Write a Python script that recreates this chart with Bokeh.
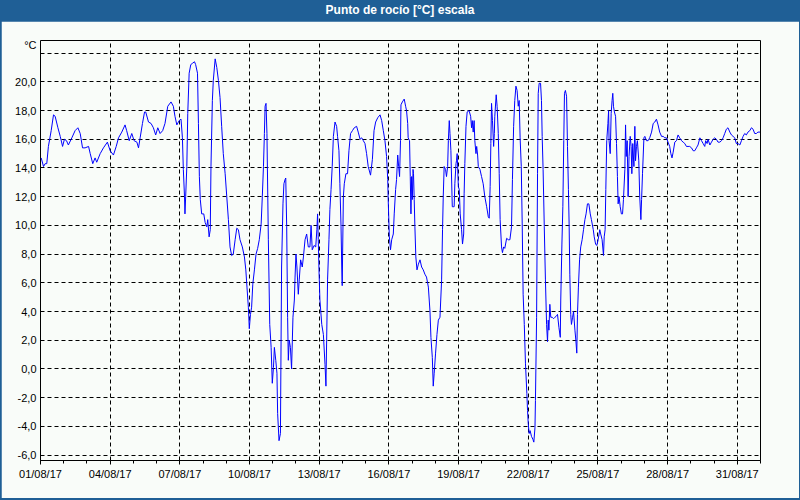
import pandas as pd
from bokeh.plotting import figure
from bokeh.layouts import column
from bokeh.models import FixedTicker, DatetimeTickFormatter, Range1d, Div
from bokeh.embed import file_html
from bokeh.resources import INLINE

TITLE = "Punto de rocío [°C] escala"
UNIT = "°C"
START = "2017-08-01"
END = "2017-09-01"

# days since 01/08/17 00:00 and dew point values (°C)
days_1 = [0.03,0.13,0.20,0.27,0.34,0.46,0.56,0.63,0.75,0.85,0.95,1.03,1.12,1.20,1.35,1.49,1.61,1.71,1.81,1.92,
          2.07,2.14,2.25,2.35,2.42,2.57,2.71,2.88,3.00,3.14,3.26,3.36,3.50,3.64,3.71,3.82,3.93,4.03,4.15,4.22,
          4.29,4.39,4.48,4.53,4.65,4.76,4.86,4.96,5.05,5.15,5.26]
vals_1 = [14.7,14.1,14.3,14.3,15.5,16.6,17.7,17.6,16.8,16.2,15.5,16.0,15.9,15.6,16.1,16.6,16.8,16.4,15.4,15.4,
          15.5,15.0,14.3,14.7,14.4,15.0,15.4,15.8,15.2,14.9,15.5,16.1,16.5,17.0,16.6,15.9,16.4,15.9,15.8,15.4,
          16.1,17.1,17.9,17.9,17.2,17.1,16.8,16.3,16.8,16.4,16.6]

days_2 = [5.36,5.48,5.62,5.72,5.79,5.87,5.97,6.05,6.11,6.15,6.20,6.22,6.25,6.30,6.34,6.40,6.47,6.55,6.63,6.68,
          6.76,6.80,6.84,6.88,6.94,7.03,7.09,7.16,7.20,7.26,7.31,7.34,7.40,7.44,7.52,7.59,7.66,7.73,7.80,7.87,
          7.95,8.02,8.09,8.16,8.23,8.30,8.38,8.45,8.52,8.59,8.69,8.78,8.84,8.89,8.95,8.99,9.04,9.09,9.14,9.21,
          9.28,9.35,9.42,9.50,9.55,9.60,9.64,9.67,9.71,9.75,9.81,9.87,9.93,9.98,10.03,10.07,10.13,10.18,10.21,10.27,
          10.33,10.38,10.44]
vals_2 = [17.1,18.3,18.6,18.3,17.6,17.0,17.3,17.4,16.1,13.9,12.0,10.8,12.0,14.1,17.8,20.6,21.2,21.3,21.4,21.2,
          20.6,17.1,13.4,11.8,10.8,10.8,10.2,9.9,10.4,9.2,9.7,14.1,18.7,20.1,21.6,21.0,20.1,18.9,16.9,15.0,
          13.6,12.0,10.4,8.5,7.9,8.0,9.0,9.8,9.7,9.0,8.5,7.8,6.9,5.7,4.3,2.8,3.8,4.3,5.9,6.9,
          8.0,8.4,9.0,10.1,12.0,14.1,16.4,18.3,18.5,16.4,9.0,3.1,1.5,-1.0,0.1,1.5,0.6,-0.3,-3.1,-5.0,
          -4.5,7.1,11.5]

days_3 = [10.48,10.53,10.56,10.60,10.64,10.67,10.71,10.76,10.81,10.87,10.93,10.96,11.00,11.04,11.10,11.14,11.20,11.27,11.32,11.39,
          11.46,11.53,11.60,11.65,11.70,11.78,11.85,11.90,11.93,11.96,11.99,12.03,12.11,12.18,12.25,12.29,12.32,12.36,12.42,12.46,
          12.51,12.56,12.61,12.68,12.75,12.79,12.85,12.89,12.94,12.97,12.99,13.04,13.08,13.15,13.22,13.28,13.35,13.43,13.51,13.61,
          13.68,13.76,13.83,13.90,13.97,14.04,14.11,14.21,14.29,14.36,14.43,14.52,14.62,14.69,14.76,14.83,14.90,14.95,14.97,15.02,
          15.07,15.12,15.19,15.23,15.29,15.33,15.38,15.42,15.46,15.50]
vals_3 = [12.9,13.2,13.3,9.9,3.6,0.6,2.0,1.5,0.0,3.6,4.8,6.4,8.0,7.1,5.2,6.2,7.6,7.1,7.8,9.0,
          9.4,8.5,8.5,10.0,8.3,8.6,8.5,9.7,10.8,9.0,6.9,4.8,3.1,2.4,0.3,-1.2,2.0,6.2,9.0,11.1,
          12.5,14.1,16.2,17.2,16.9,16.2,15.2,12.9,9.9,7.1,5.8,12.0,12.9,13.6,13.6,15.2,16.4,16.6,16.8,16.9,
          16.5,16.0,16.1,15.9,15.7,15.0,14.1,13.5,14.6,16.6,17.2,17.5,17.7,17.3,16.6,15.9,14.8,13.2,11.8,9.2,
          8.3,9.0,9.4,10.8,12.5,13.2,14.9,14.1,13.4,15.9]

days_4 = [15.52,15.58,15.66,15.72,15.76,15.81,15.83,15.89,15.92,15.95,15.98,16.01,16.04,16.06,16.09,16.12,16.16,16.21,16.27,16.34,
          16.41,16.48,16.55,16.62,16.70,16.77,16.81,16.87,16.91,16.95,17.01,17.07,17.13,17.20,17.27,17.31,17.34,17.38,17.44,17.48,
          17.53,17.56,17.60,17.63,17.67,17.73,17.77,17.81,17.84,17.89,17.91,17.94,17.99,18.03,18.07,18.13,18.17,18.22,18.24,18.27,
          18.32,18.37,18.45,18.52,18.56,18.59,18.63,18.67,18.70,18.75,18.78,18.82,18.85,18.92,18.99,19.06,19.13,19.21,19.28,19.32,
          19.36,19.39,19.42,19.46,19.51,19.54,19.56,19.62,19.66,19.71,19.75,19.79,19.85,19.89,19.94,19.99,20.07,20.14,20.21,20.28,
          20.32,20.37,20.42,20.47,20.52,20.57]
vals_4 = [18.4,18.6,18.8,18.3,18.0,17.1,16.1,15.9,13.4,10.8,13.4,11.8,13.9,13.6,11.8,9.9,7.8,6.9,7.3,7.6,
          7.1,6.9,6.6,6.4,5.7,4.0,2.2,0.8,-1.2,-0.3,1.1,2.4,3.4,3.6,6.2,9.7,12.0,14.1,13.9,13.4,
          14.1,15.9,17.3,16.4,15.2,11.3,11.3,11.3,12.9,14.3,14.5,15.0,12.7,12.5,10.8,9.7,8.7,9.4,12.2,14.3,
          16.9,17.9,18.0,17.6,16.8,17.3,16.5,17.3,15.9,15.0,15.5,14.9,14.1,13.9,13.4,12.9,12.0,11.3,10.6,10.5,
          12.7,15.7,18.5,17.3,15.5,16.4,17.6,19.1,18.3,16.4,13.6,10.4,8.5,8.1,8.5,8.4,9.1,9.0,9.0,9.9,
          13.2,16.9,18.7,19.7,19.4,18.3]

days_5 = [20.61,20.65,20.70,20.74,20.78,20.83,20.88,20.94,20.97,21.00,21.04,21.08,21.14,21.20,21.24,21.29,21.31,21.36,21.40,21.43,
          21.47,21.53,21.57,21.60,21.64,21.69,21.74,21.79,21.83,21.86,21.89,21.93,21.97,22.03,22.09,22.15,22.22,22.26,22.32,22.38,
          22.40,22.45,22.49,22.53,22.56,22.60,22.65,22.69,22.73,22.76,22.79,22.83,22.86,22.91,22.95,23.01,23.05,23.09,23.12,23.16,
          23.21,23.26,23.32,23.38,23.44,23.49,23.55,23.61,23.67,23.72,23.80,23.84,23.90,23.95,24.01,24.08,24.12,24.18,24.24,24.27,
          24.31,24.34,24.38,24.43,24.46,24.48,24.53,24.57,24.61,24.64,24.67,24.71,24.76,24.80,24.84,24.87,24.91,24.96,25.01,25.06,
          25.10,25.16,25.19,25.22,25.26,25.30,25.34,25.39,25.43,25.46,25.50,25.55,25.59,25.62,25.66,25.70,25.76,25.80,25.85,25.88,
          25.92]
vals_5 = [18.7,16.1,14.1,10.1,5.2,3.1,0.4,-1.7,-2.9,-3.8,-4.5,-4.3,-4.7,-4.9,-5.1,-4.1,-2.2,3.6,13.6,19.2,
          19.9,19.9,18.7,16.2,13.9,9.9,6.2,3.1,1.9,3.4,2.7,4.5,3.6,3.6,3.5,3.6,3.7,3.8,2.9,2.2,
          4.8,8.7,11.3,15.9,19.2,19.4,19.0,15.5,12.5,10.1,6.6,3.8,3.1,3.6,4.0,2.7,2.0,1.1,3.8,5.7,
          7.6,8.5,9.0,9.7,10.4,10.8,11.5,11.5,10.8,10.4,9.7,9.2,8.7,8.6,9.0,9.7,9.4,9.0,7.9,9.2,
          9.7,12.5,15.9,17.1,18.0,15.9,15.0,17.8,18.7,19.2,18.3,17.9,17.6,15.7,13.4,11.5,12.0,11.3,10.8,10.8,
          11.8,13.9,17.0,14.8,15.9,12.0,14.8,16.2,15.5,13.6,15.7,14.1,16.9,14.5,15.5,15.9,14.5,12.0,10.4,11.8,
          13.6]

days_6 = [25.98,26.02,26.09,26.16,26.23,26.31,26.38,26.45,26.52,26.59,26.66,26.74,26.81,26.88,26.95,27.02,27.09,27.14,27.19,27.24,
          27.31,27.38,27.45,27.52,27.60,27.67,27.74,27.81,27.88,27.95,28.03,28.10,28.17,28.24,28.31,28.39,28.46,28.53,28.60,28.64,
          28.70,28.74,28.82,28.89,28.96,29.03,29.10,29.17,29.25,29.32,29.39,29.46,29.53,29.60,29.68,29.75,29.82,29.89,29.96,30.03,
          30.11,30.18,30.25,30.32,30.39,30.46,30.54,30.61,30.68,30.75,30.82,30.89,30.98]
vals_6 = [16.1,16.2,15.9,15.9,16.1,16.5,17.1,17.2,17.4,17.0,16.5,16.2,16.2,16.1,16.1,15.8,15.5,15.0,14.7,15.1,
          15.8,15.9,16.3,16.1,15.9,15.8,15.7,15.5,15.5,15.5,15.4,15.2,15.2,15.4,15.6,16.1,15.9,15.7,15.5,15.9,
          15.7,16.0,15.6,15.8,16.0,16.1,16.0,15.8,15.8,15.9,16.1,16.4,16.7,16.8,16.5,16.3,16.2,16.1,15.7,15.7,
          15.6,15.9,16.2,16.4,16.3,16.5,16.6,16.8,16.7,16.4,16.4,16.5,16.5]

y_ticks = list(range(-6, 23, 2))
unit_tick = 22.57
x_tick_days = list(range(0, 31, 3))

days = days_1 + days_2 + days_3 + days_4 + days_5 + days_6
vals = vals_1 + vals_2 + vals_3 + vals_4 + vals_5 + vals_6
assert len(days) == len(vals)

start = pd.Timestamp(START)
end = pd.Timestamp(END)
times = start + pd.to_timedelta(days, unit="D")

def ms(ts):
    return ts.value // 10**6

BLUE_BAR = "#1f5f96"
BG = "#f9fcf9"
FONT = "Liberation Sans"

p = figure(width=798, height=477, x_axis_type="datetime", output_backend="svg", toolbar_location=None,
           x_range=Range1d(start, end), y_range=Range1d(-6.38, 22.88),
           min_border_left=39, min_border_right=39, min_border_top=19, min_border_bottom=38,
           margin=(0, 1, 2, 1))
p.background_fill_color = BG
p.border_fill_color = BG
p.outline_line_color = "black"
p.outline_line_width = 1

p.line(times, vals, line_color="#0000ff", line_width=1)

x_major = [ms(start + pd.Timedelta(days=d)) for d in x_tick_days]
x_minor = [ms(start + pd.Timedelta(days=d)) for d in range(0, 32)]
xt = FixedTicker(ticks=x_major, minor_ticks=x_minor)
fmt = "%d/%m/%y"
p.xaxis.ticker = xt
p.xaxis.formatter = DatetimeTickFormatter(milliseconds=fmt, seconds=fmt, minsec=fmt, minutes=fmt,
                                          hourmin=fmt, hours=fmt, days=fmt, months=fmt, years=fmt)
p.xaxis.major_tick_in = 0
p.xaxis.major_tick_out = 4
p.xaxis.minor_tick_in = 0
p.xaxis.minor_tick_out = 3
p.xaxis.axis_line_color = "black"
p.xaxis.major_tick_line_color = "black"
p.xaxis.minor_tick_line_color = "black"
p.xaxis.major_label_standoff = 3
p.xaxis.major_label_text_font = FONT
p.xaxis.major_label_text_font_size = "11px"
p.xaxis.major_label_text_color = "black"

# grid uses the numeric ticks; the axis also carries the unit label at the top
yt = FixedTicker(ticks=y_ticks, minor_ticks=[])
yt_axis = FixedTicker(ticks=y_ticks + [unit_tick], minor_ticks=[])
overrides = {v: f"{v:.1f}".replace(".", ",") for v in y_ticks}
overrides[y_ticks[-1]] = ""
overrides[unit_tick] = UNIT
p.yaxis.ticker = yt_axis
p.yaxis.major_label_overrides = overrides
p.yaxis.major_tick_in = 0
p.yaxis.major_tick_out = 0
p.yaxis.minor_tick_in = 0
p.yaxis.minor_tick_out = 0
p.yaxis.axis_line_color = None
p.yaxis.major_label_standoff = 4
p.yaxis.major_label_text_font = FONT
p.yaxis.major_label_text_font_size = "11px"
p.yaxis.major_label_text_color = "black"

for g, t in ((p.xgrid, xt), (p.ygrid, yt)):
    g.ticker = t
    g.grid_line_color = "black"
    g.grid_line_dash = "4 3"
    g.grid_line_width = 1

bar = Div(text=TITLE, width=800, height=21, margin=0,
          styles={"background-color": BLUE_BAR, "color": "white", "font-family": "'Liberation Sans', sans-serif",
                  "font-weight": "bold", "font-size": "12px", "text-align": "center", "line-height": "21px"})

layout = column(bar, p, spacing=0, styles={"background-color": BLUE_BAR})

open("out.html", "w").write(file_html(layout, INLINE))
